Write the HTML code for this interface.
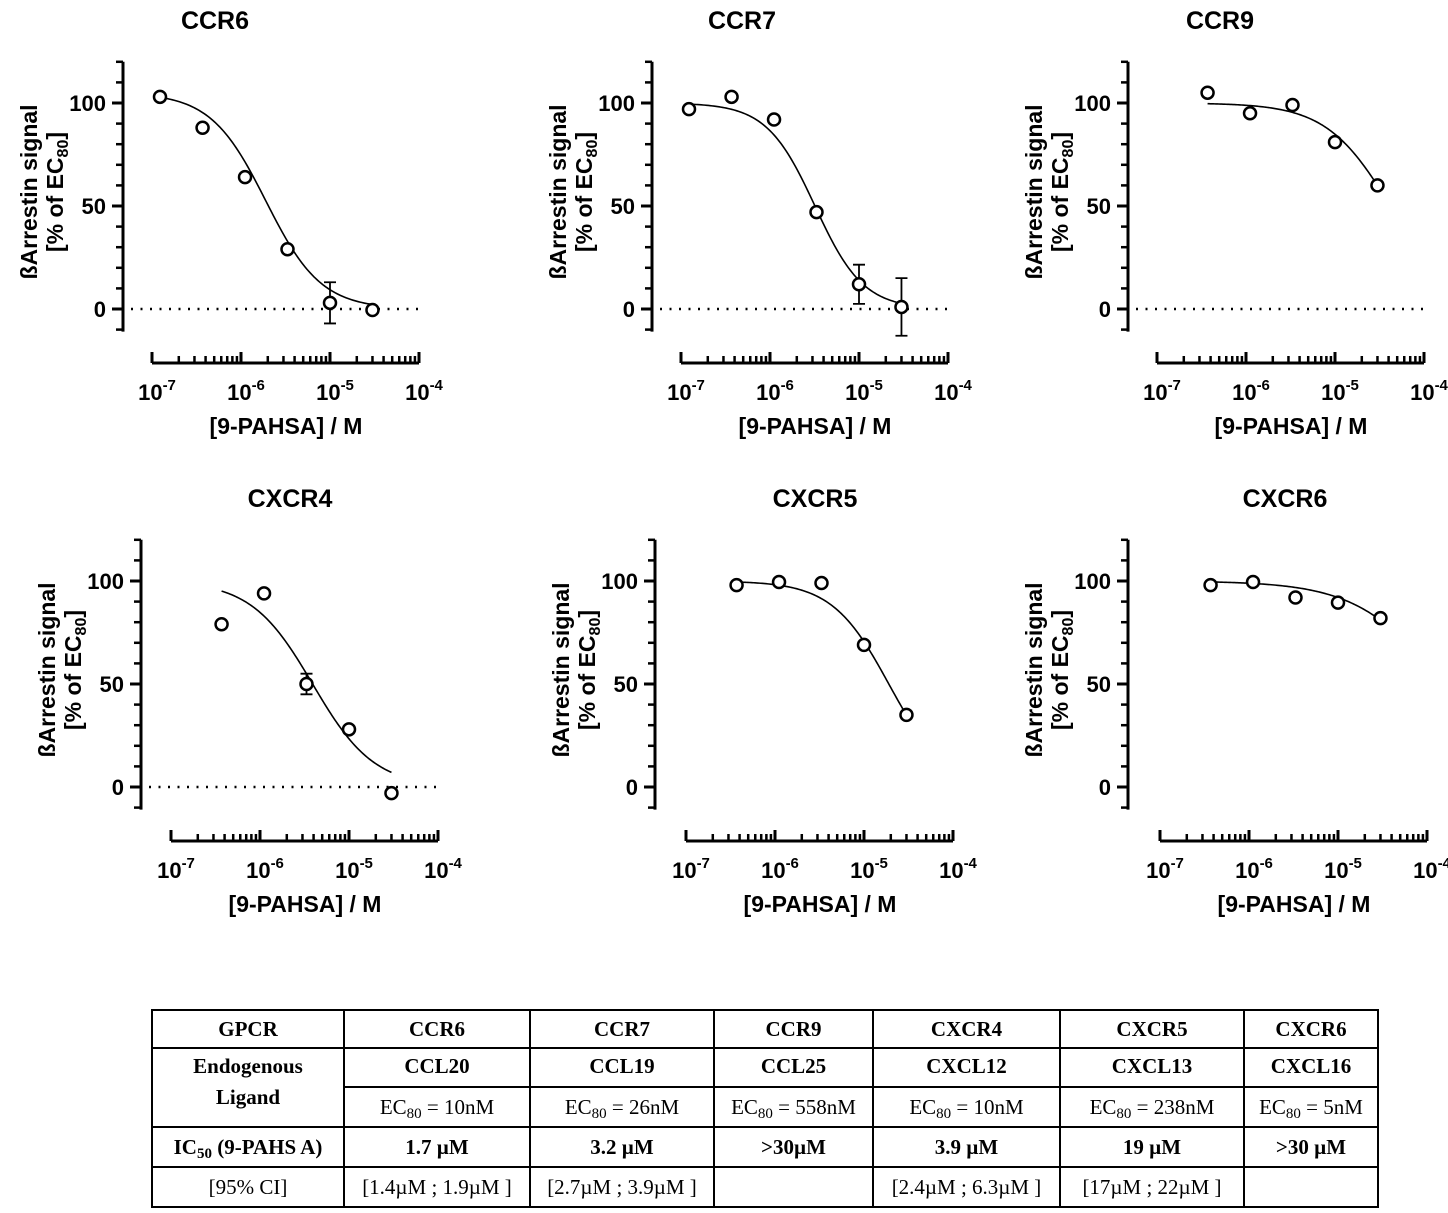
<!DOCTYPE html>
<html><head><meta charset="utf-8">
<style>
html,body{margin:0;padding:0;background:#fff;}
svg{display:block;}
.sans{font-family:"Liberation Sans",sans-serif;font-weight:bold;}
.serif{font-family:"Liberation Serif",serif;}
</style></head>
<body>
<svg id="fig" width="1448" height="1213" viewBox="0 0 1448 1213" xmlns="http://www.w3.org/2000/svg"></svg>
<script>
// ---- data ----
const panelNames = ["CCR6","CCR7","CCR9","CXCR4","CXCR5","CXCR6"];
const concCCR6 = [1.23e-7,3.7e-7,1.11e-6,3.33e-6,1e-5,3e-5];
const valsCCR6 = [103,88,64,29,3,-0.5];
const errCCR6 = [0,0,0,0,10,0];
const concCCR7 = [1.23e-7,3.7e-7,1.11e-6,3.33e-6,1e-5,3e-5];
const valsCCR7 = [97,103,92,47,12,1];
const errCCR7 = [0,0,0,0,9.5,14];
const concCCR9 = [3.7e-7,1.11e-6,3.33e-6,1e-5,3e-5];
const valsCCR9 = [105,95,99,81,60];
const errCCR9 = [0,0,0,0,0];
const concCXCR4 = [3.7e-7,1.11e-6,3.33e-6,1e-5,3e-5];
const valsCXCR4 = [79,94,50,28,-3];
const errCXCR4 = [0,0,5,0,0];
const concCXCR5 = [3.7e-7,1.11e-6,3.33e-6,1e-5,3e-5];
const valsCXCR5 = [98,99.5,99,69,35];
const errCXCR5 = [0,0,0,0,0];
const concCXCR6 = [3.7e-7,1.11e-6,3.33e-6,1e-5,3e-5];
const valsCXCR6 = [98,99.5,92,89.5,82];
const errCXCR6 = [0,0,0,0,0];
// fit parameters: top, IC50 (M) and Hill slope
const fitTop = [105,100,100,100,100,100];
const fitIC50 = [1.9e-6,3.2e-6,4.2e-5,3.9e-6,1.9e-5,1.5e-4];
const fitHill = [1.4,1.6,1.2,1.26,1.36,0.9];
const fitStart = [1.23e-7,1.23e-7,3.7e-7,3.7e-7,3.7e-7,3.7e-7];
const showZeroLine = [true,true,true,true,false,false];
const yTicks = [0,50,100];
const xTickExps = [-7,-6,-5,-4];

const allConc=[concCCR6,concCCR7,concCCR9,concCXCR4,concCXCR5,concCXCR6];
const allVals=[valsCCR6,valsCCR7,valsCCR9,valsCXCR4,valsCXCR5,valsCXCR6];
const allErr=[errCCR6,errCCR7,errCCR9,errCXCR4,errCXCR5,errCXCR6];

const NS="http://www.w3.org/2000/svg";
const svg=document.getElementById('fig');
function mk(tag,attrs,parent){const e=document.createElementNS(NS,tag);for(const k in attrs)e.setAttribute(k,attrs[k]);(parent||svg).appendChild(e);return e;}

const layout=[[123,62,152],[652,62,681],[1128,62,1157],[141,540,171],[655,540,686],[1128,540,1160]];
const titleX=[215,742,1220,290,815,1285];

for(let p=0;p<6;p++){
  const [ax,top,xs]=layout[p];
  const g=mk('g',{});
  
  
  const y0=top+247, k=2.06;
  const Y=v=>y0-v*k;
  const dec=89;
  const X=c=>xs+(Math.log10(c)+7)*dec;
  const t=mk('text',{x:titleX[p],y:top-33,'text-anchor':'middle','font-size':25,class:'sans'},g);
  t.textContent=panelNames[p];
  
  
  const ya=mk('g',{stroke:'#000','stroke-width':3},g);
  
  
  mk('line',{x1:ax,y1:Y(120),x2:ax,y2:Y(-11)},ya);
  for(let v=-10;v<=120;v+=10){
    const maj=v%50===0;
    mk('line',{x1:ax-(maj?11:7),y1:Y(v),x2:ax,y2:Y(v),'stroke-width':maj?3:2.5},ya);
  }
  yTicks.forEach(v=>{
    const tl=mk('text',{x:ax-17,y:Y(v)+8,'text-anchor':'end','font-size':22,class:'sans'},g);
    tl.textContent=v;
    
    
  });
  const yt=mk('text',{transform:`translate(${ax-86},${top+130}) rotate(-90)`,'text-anchor':'middle','font-size':23,class:'sans'},g);
  
  
  const ts1=mk('tspan',{x:0,y:0},yt);ts1.textContent='ßArrestin signal';
  const ts2=mk('tspan',{x:0,y:26},yt);ts2.textContent='[% of EC';
  const ts3=mk('tspan',{dy:5,'font-size':16},yt);ts3.textContent='80';
  const ts4=mk('tspan',{dy:-5},yt);ts4.textContent=']';
  const xa=mk('g',{stroke:'#000','stroke-width':3},g);
  
  
  const xy=top+301;
  mk('line',{x1:xs,y1:xy,x2:xs+3*dec,y2:xy},xa);
  for(let d=-7;d<-4;d++){
    for(let m=1;m<=9;m++){
      const xx=X(m*Math.pow(10,d));
      mk('line',{x1:xx,y1:xy,x2:xx,y2:xy-(m===1?11:7),'stroke-width':m===1?3:2.5},xa);
    }
  }
  mk('line',{x1:X(1e-4),y1:xy,x2:X(1e-4),y2:xy-11},xa);
  xTickExps.forEach(e=>{
    const tl=mk('text',{x:X(Math.pow(10,e))+5,y:xy+37,'text-anchor':'middle','font-size':22,class:'sans'},g);
    
    
    const a=mk('tspan',{},tl);a.textContent='10';
    const b=mk('tspan',{dy:-10,'font-size':15},tl);b.textContent=String(e);
  });
  const xt=mk('text',{x:xs+134,y:xy+71,'text-anchor':'middle','font-size':23,class:'sans'},g);
  xt.textContent='[9-PAHSA] / M';
  
  
  if(showZeroLine[p]){
    const zl=mk('line',{x1:ax+8,y1:Y(0),x2:X(1e-4),y2:Y(0),stroke:'#000','stroke-width':2.5,'stroke-dasharray':'2 7.5'},g);
    
    
  }
  let d='';
  const l0=Math.log10(fitStart[p]), l1=Math.log10(3e-5);
  for(let i=0;i<=120;i++){
    const lc=l0+(l1-l0)*i/120, c=Math.pow(10,lc);
    const v=fitTop[p]/(1+Math.pow(c/fitIC50[p],fitHill[p]));
    d+=(i?'L':'M')+X(c).toFixed(2)+','+Y(v).toFixed(2);
  }
  const cu=mk('path',{d:d,fill:'none',stroke:'#000','stroke-width':1.6},g);
  
  
  const conc=allConc[p],vals=allVals[p],err=allErr[p];
  conc.forEach((c,i)=>{
    const cx=X(c),cy=Y(vals[i]);
    if(err[i]>0){
      const eb=mk('path',{d:`M${cx},${Y(vals[i]+err[i])}V${Y(vals[i]-err[i])}M${cx-6},${Y(vals[i]+err[i])}h12M${cx-6},${Y(vals[i]-err[i])}h12`,stroke:'#000','stroke-width':1.8,fill:'none'},g);
      
      
    }
    const pt=mk('circle',{cx:cx,cy:cy,r:6,fill:'#fff',stroke:'#000','stroke-width':2.5},g);
    
    
  });
}

// ---- table ----
const colX=[152,344,530,714,873,1060,1244,1378];
const rowY=[1010,1048,1087,1127,1167,1207];
const tg=mk('g',{});


const tb=mk('g',{stroke:'#000','stroke-width':2},tg);
mk('rect',{x:colX[0],y:rowY[0],width:colX[7]-colX[0],height:rowY[5]-rowY[0],fill:'none'},tb);
colX.slice(1,7).forEach(x=>mk('line',{x1:x,y1:rowY[0],x2:x,y2:rowY[5]},tb));
mk('line',{x1:colX[0],y1:rowY[1],x2:colX[7],y2:rowY[1]},tb);
mk('line',{x1:colX[1],y1:rowY[2],x2:colX[7],y2:rowY[2]},tb);
mk('line',{x1:colX[0],y1:rowY[3],x2:colX[7],y2:rowY[3]},tb);
mk('line',{x1:colX[0],y1:rowY[4],x2:colX[7],y2:rowY[4]},tb);
const gpcr=["CCR6","CCR7","CCR9","CXCR4","CXCR5","CXCR6"];
const ligand=["CCL20","CCL19","CCL25","CXCL12","CXCL13","CXCL16"];
const ec80=["10nM","26nM","558nM","10nM","238nM","5nM"];
const ic50=["1.7 µM","3.2 µM",">30µM","3.9 µM","19 µM",">30 µM"];
const ci=["[1.4µM ; 1.9µM ]","[2.7µM ; 3.9µM ]","","[2.4µM ; 6.3µM ]","[17µM ; 22µM ]",""];
function cell(txt,col,yb,bold,name){
  const x=(colX[col]+colX[col+1])/2;
  const t=mk('text',{x:x,y:yb,'text-anchor':'middle','font-size':21,class:'serif','font-weight':bold?'bold':'normal'},tg);
  t.textContent=txt;
  
  
  return t;
}
cell('GPCR',0,1036,true,'header-gpcr');
cell('Endogenous',0,1073,true,'header-ligand');
cell('Ligand',0,1104,true,'header-ligand-2');
const ict=mk('text',{x:(colX[0]+colX[1])/2,y:1154,'text-anchor':'middle','font-size':21,class:'serif','font-weight':'bold'},tg);


let s=mk('tspan',{},ict);s.textContent='IC';
s=mk('tspan',{'font-size':15,dy:4},ict);s.textContent='50';
s=mk('tspan',{dy:-4},ict);s.textContent=' (9-PAHS A)';
cell('[95% CI]',0,1194,false,'header-ci');
for(let i=0;i<6;i++){
  cell(gpcr[i],i+1,1036,true,'gpcr-cell');
  cell(ligand[i],i+1,1073,true,'ligand-cell');
  const e=mk('text',{x:(colX[i+1]+colX[i+2])/2,y:1114,'text-anchor':'middle','font-size':21,class:'serif'},tg);
  
  
  let a=mk('tspan',{},e);a.textContent='EC';
  a=mk('tspan',{'font-size':15,dy:4},e);a.textContent='80';
  a=mk('tspan',{dy:-4},e);a.textContent=' = '+ec80[i];
  cell(ic50[i],i+1,1154,true,'ic50-cell');
  if(ci[i])cell(ci[i],i+1,1194,false,'ci-cell');
}
</script>
</body></html>
